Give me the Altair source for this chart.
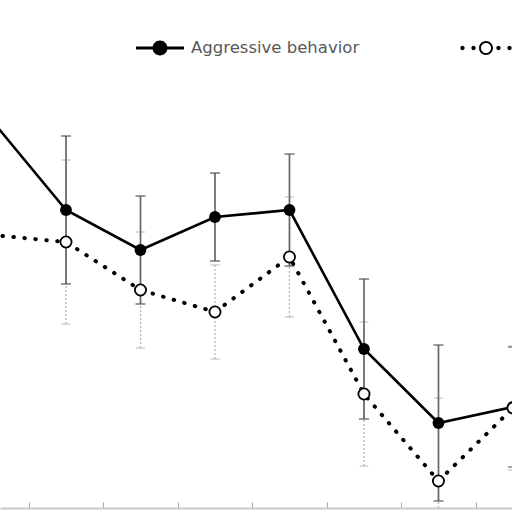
import altair as alt
import pandas as pd

# Measurement occasions (index along the x axis)
timepoints = [0, 1, 2, 3, 4, 5, 6, 7]

# Series means and error-bar half widths
aggressive_mean = [3.88, 2.98, 2.58, 2.91, 2.98, 1.59, 0.85, 1.01]
aggressive_err = [0.70, 0.74, 0.54, 0.44, 0.56, 0.70, 0.78, 0.60]
second_mean = [2.73, 2.66, 2.18, 1.96, 2.51, 1.14, 0.27, 1.00]
second_err = [0.80, 0.82, 0.58, 0.47, 0.60, 0.72, 0.83, 0.62]

series_names = ["Aggressive behavior", "Anxious behavior"]
boundary_ticks = [0.5, 1.5, 2.5, 3.5, 4.5, 5.5, 6.5]

rows = []
for name, means, errs in [
    (series_names[0], aggressive_mean, aggressive_err),
    (series_names[1], second_mean, second_err),
]:
    for t, m, e in zip(timepoints, means, errs):
        rows.append({"t": t, "mean": m, "lo": m - e, "hi": m + e, "series": name})
df = pd.DataFrame(rows)

x_scale = alt.Scale(domain=[0.114, 6.987], nice=False, zero=False)
y_scale = alt.Scale(domain=[0, 5.08], nice=False, zero=False)

x_axis = alt.Axis(
    orient="top", offset=-508, values=boundary_ticks, labels=False, title=None,
    grid=False, domainColor="#c8c8c8", domainWidth=2, tickColor="#a8a8a8",
    tickSize=6, tickWidth=1,
)

X = alt.X("t:Q", scale=x_scale, axis=x_axis)
Xp = alt.X("t:Q", scale=x_scale)
Y = alt.Y("mean:Q", scale=y_scale, axis=None)

base = alt.Chart(df)
solid = base.transform_filter(alt.datum.series == series_names[0])
dotted = base.transform_filter(alt.datum.series == series_names[1])

# error bars: dashed light grey for the second series, solid grey for aggression
dot_bar = dotted.mark_rule(color="#b4b4b4", strokeWidth=1.3, strokeDash=[2, 2], clip=True).encode(
    x=X, y=alt.Y("lo:Q", scale=y_scale, axis=None), y2="hi:Q")
dot_caps = dotted.transform_fold(["lo", "hi"], as_=["end", "v"]).mark_tick(
    orient="horizontal", size=9, thickness=1.3, color="#b4b4b4", clip=True).encode(
    x=Xp, y=alt.Y("v:Q", scale=y_scale, axis=None))

sol_bar = solid.mark_rule(color="#666666", strokeWidth=1.7, clip=True).encode(
    x=Xp, y=alt.Y("lo:Q", scale=y_scale, axis=None), y2="hi:Q")
sol_caps = solid.transform_fold(["lo", "hi"], as_=["end", "v"]).mark_tick(
    orient="horizontal", size=10, thickness=1.7, color="#555555", clip=True).encode(
    x=Xp, y=alt.Y("v:Q", scale=y_scale, axis=None))

sol_line = solid.mark_line(color="black", strokeWidth=2.6, clip=True).encode(x=Xp, y=Y)
dot_line = dotted.mark_line(color="black", strokeWidth=4, strokeDash=[0.5, 10.5],
                            strokeCap="round", clip=True).encode(x=Xp, y=Y)
sol_pts = solid.mark_point(filled=True, color="black", size=140, opacity=1, clip=True).encode(x=Xp, y=Y)
dot_pts = dotted.mark_point(filled=True, fill="white", stroke="black", strokeWidth=1.8,
                            size=125, opacity=1, clip=True).encode(x=Xp, y=Y)


# legend keys drawn as filled outlines (line with marker), one legend per series
def disc(cx, r, reverse=False):
    sweep = 0 if reverse else 1
    return (f"M{cx - r},0A{r},{r},0,1,{sweep},{cx + r},0"
            f"A{r},{r},0,1,{sweep},{cx - r},0Z")


path_solid = "M-1,-0.06H1V0.06H-1Z" + disc(0, 0.31)
path_open = (disc(-0.98, 0.09) + disc(-0.52, 0.09) + disc(0.52, 0.09) + disc(0.98, 0.09)
             + disc(0, 0.29) + disc(0, 0.21, reverse=True))

legend_common = dict(
    title=None, orient="none", legendY=23, direction="horizontal",
    labelFont="DejaVu Sans", labelFontSize=16.5, labelColor="#585858", labelLimit=400,
    symbolFillColor="black", labelOffset=6, padding=0, symbolSize=2304, symbolOpacity=1,
)

key_a_df = pd.DataFrame({"t": [-10], "mean": [1], "series": [series_names[0]]})
key_b_df = pd.DataFrame({"t": [-10], "mean": [1], "series": [series_names[1]]})

key_a = alt.Chart(key_a_df).mark_point(
    filled=True, color="black", shape=path_solid, size=2304, clip=True
).encode(
    x=Xp, y=Y,
    opacity=alt.Opacity("series:N", scale=alt.Scale(domain=[series_names[0]], range=[1]),
                        legend=alt.Legend(legendX=135, symbolType=path_solid, **legend_common)),
)
key_b = alt.Chart(key_b_df).mark_point(
    filled=True, color="black", size=2304, clip=True
).encode(
    x=Xp, y=Y,
    shape=alt.Shape("series:N", scale=alt.Scale(domain=[series_names[1]], range=[path_open]),
                    legend=alt.Legend(legendX=461, **legend_common)),
)

chart = alt.layer(
    dot_bar, dot_caps, sol_bar, sol_caps, sol_line, dot_line, sol_pts, dot_pts, key_a, key_b
).properties(
    width=512, height=508,
    autosize=alt.AutoSizeParams(type="none"),
    padding={"left": 0, "top": 0, "right": 0, "bottom": 4},
).resolve_legend(opacity="independent", shape="independent").configure_view(stroke=None)

chart.save("out.html", embed_options={"renderer": "svg", "actions": False})
